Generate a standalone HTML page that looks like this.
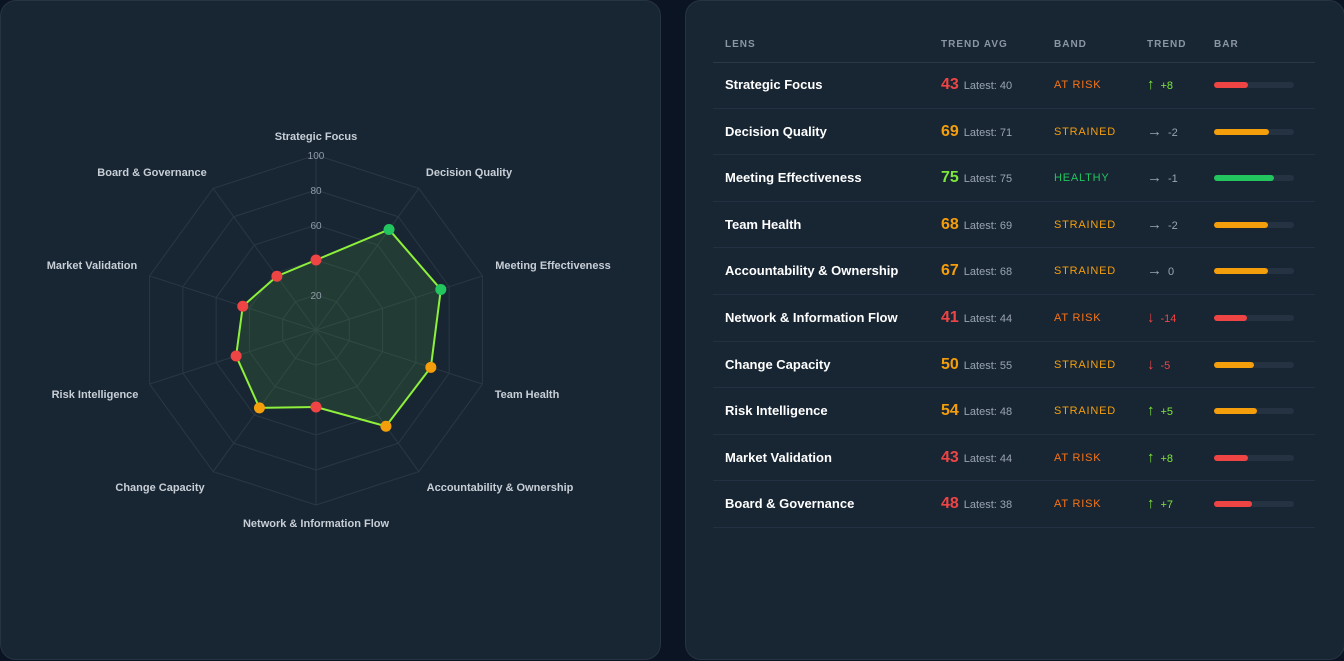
<!DOCTYPE html>
<html><head><meta charset="utf-8"><style>
*{margin:0;padding:0;box-sizing:border-box}
body{width:1344px;height:661px;background:#0b1422;font-family:"Liberation Sans",sans-serif;position:relative;overflow:hidden}
.panel{position:absolute;top:0;height:660px;background:#182634;border:1px solid #253343;border-radius:16px}
.hdr{position:absolute;top:39px;font-size:10px;font-weight:bold;color:#8b96a3;letter-spacing:1px}
.row{position:absolute;left:713px;width:602px;height:46.6px;border-bottom:1px solid #223041}
.row div{position:absolute;top:0;line-height:46px;white-space:nowrap}
.name{left:12px;font-size:13px;font-weight:bold;color:#fff}
.avg{left:228px;font-size:16px;font-weight:bold}
.avg span{font-size:11px;font-weight:normal;color:#9aa4b0;margin-left:5px}
.band{left:341px;font-size:11px;letter-spacing:.8px}
.tr{left:434px;font-size:11px}
.tr b{font-size:15px;margin-right:6px;font-weight:normal}
.bar{left:501px;top:20px!important;width:80px;height:6px;background:#243242;border-radius:3px;line-height:0!important}
.bar i{display:block;height:6px;border-radius:3px}
</style></head><body>
<div class="panel" style="left:0;width:661px"></div>
<div class="panel" style="left:685px;width:660px"></div>
<svg width="661" height="661" style="position:absolute;left:0;top:0" font-family="Liberation Sans, sans-serif">
<g id="grid" stroke="#2a3744" stroke-width="1" fill="none"></g>
<polygon id="data" fill="rgba(74,140,60,0.22)" stroke="#8ef03a" stroke-width="2"></polygon>
<g id="dots"></g>
<g font-size="10" fill="#8f9aa6" text-anchor="middle">
<text x="316" y="159">100</text><text x="316" y="194">80</text><text x="316" y="229">60</text><text x="316" y="299">20</text>
</g>
<g font-size="11" font-weight="bold" fill="#c7ced6" text-anchor="middle">
<text x="316" y="140">Strategic Focus</text>
<text x="469" y="176">Decision Quality</text>
<text x="553" y="269">Meeting Effectiveness</text>
<text x="527" y="398">Team Health</text>
<text x="500" y="491">Accountability &amp; Ownership</text>
<text x="316" y="527">Network &amp; Information Flow</text>
<text x="160" y="491">Change Capacity</text>
<text x="95" y="398">Risk Intelligence</text>
<text x="92" y="269">Market Validation</text>
<text x="152" y="176">Board &amp; Governance</text>
</g>
</svg>
<script>
var cx=316,cy=330,R=175,ns="http://www.w3.org/2000/svg";
function pt(i,r){var a=i*Math.PI/5;return [cx+r*Math.sin(a),cy-r*Math.cos(a)];}
var g=document.getElementById('grid');
for(var l=1;l<=5;l++){var p=[];for(var i=0;i<10;i++)p.push(pt(i,R*l/5).join(','));var e=document.createElementNS(ns,'polygon');e.setAttribute('points',p.join(' '));g.appendChild(e);}
for(var i=0;i<10;i++){var q=pt(i,R),e=document.createElementNS(ns,'line');e.setAttribute('x1',cx);e.setAttribute('y1',cy);e.setAttribute('x2',q[0]);e.setAttribute('y2',q[1]);g.appendChild(e);}
var v=[40,71,75,69,68,44,55,48,44,38],p=[],d=document.getElementById('dots');
for(var i=0;i<10;i++){var q=pt(i,R*v[i]/100);p.push(q.join(','));var c=document.createElementNS(ns,'circle');c.setAttribute('cx',q[0]);c.setAttribute('cy',q[1]);c.setAttribute('r',5.5);c.setAttribute('fill',v[i]>70?'#22c55e':v[i]>=50?'#f59e0b':'#ef4444');d.appendChild(c);}
document.getElementById('data').setAttribute('points',p.join(' '));
</script>
<div class="hdr" style="left:725px">LENS</div>
<div class="hdr" style="left:941px">TREND AVG</div>
<div class="hdr" style="left:1054px">BAND</div>
<div class="hdr" style="left:1147px">TREND</div>
<div class="hdr" style="left:1214px">BAR</div>
<div style="position:absolute;left:713px;top:62px;width:602px;height:1px;background:#2a3848"></div>
<div id="rows"></div>
<script>
var rows=[["Strategic Focus",43,40,"AT RISK","up","+8"],["Decision Quality",69,71,"STRAINED","rt","-2"],["Meeting Effectiveness",75,75,"HEALTHY","rt","-1"],["Team Health",68,69,"STRAINED","rt","-2"],["Accountability &amp; Ownership",67,68,"STRAINED","rt","0"],["Network &amp; Information Flow",41,44,"AT RISK","dn","-14"],["Change Capacity",50,55,"STRAINED","dn","-5"],["Risk Intelligence",54,48,"STRAINED","up","+5"],["Market Validation",43,44,"AT RISK","up","+8"],["Board &amp; Governance",48,38,"AT RISK","up","+7"]];
var h="";
rows.forEach(function(r,i){
var col=r[1]>70?'#7ee83a':r[1]>=50?'#f59e0b':'#ef4444';
var bc=r[1]>70?'#22c55e':r[1]>=50?'#f59e0b':'#ef4444';
var band=r[3]=="AT RISK"?'#f97316':r[3]=="HEALTHY"?'#22c55e':'#f59e0b';
var tc=r[4]=="up"?'#7ee83a':r[4]=="dn"?'#ef4444':'#9aa4b0';
var ar=r[4]=="up"?'↑':r[4]=="dn"?'↓':'→';
h+='<div class="row" style="top:'+(62+i*46.6)+'px"><div class="name">'+r[0]+'</div><div class="avg" style="color:'+col+'">'+r[1]+'<span>Latest: '+r[2]+'</span></div><div class="band" style="color:'+band+'">'+r[3]+'</div><div class="tr" style="color:'+tc+'"><b>'+ar+'</b>'+r[5]+'</div><div class="bar"><i style="width:'+(r[1]*0.8)+'px;background:'+bc+'"></i></div></div>';
});
document.getElementById('rows').innerHTML=h;
</script>
</body></html>
